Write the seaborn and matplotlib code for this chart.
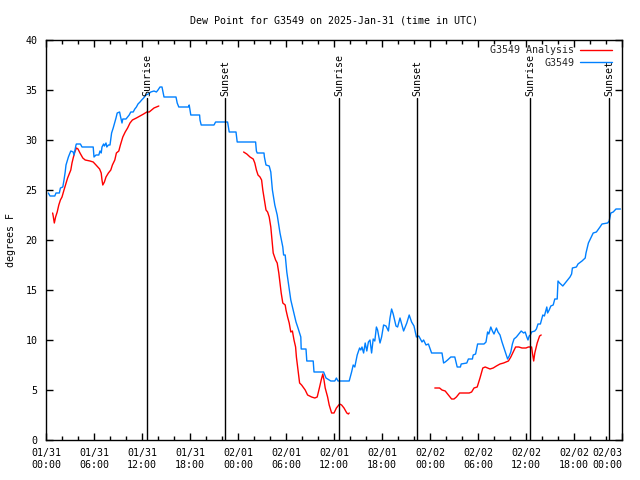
import pandas as pd
import numpy as np
import matplotlib.pyplot as plt
import seaborn as sns
from matplotlib.lines import Line2D
from matplotlib.ticker import MultipleLocator

# Datos (horas desde 2025-01-31 00:00 UTC, punto de rocío en °F)
obs_horas = [0.29, 0.5, 1.1, 1.25, 1.67, 1.8, 2.1, 2.25, 2.4, 2.5, 2.8, 3.0, 3.1, 3.4, 3.5,
             3.75, 3.8, 4.3, 4.5, 5.9, 6.0, 6.25, 6.6, 6.75, 6.9, 7.0, 7.2, 7.3, 7.5, 7.6,
             7.8, 8.0, 8.2, 8.4, 8.75, 8.9, 9.2, 9.3, 9.5, 9.6, 10.0, 10.4, 10.6, 10.9, 11.1,
             11.3, 11.5, 11.75, 11.96, 12.2, 12.5, 12.8, 13.1, 13.5, 13.8, 14.0, 14.25, 14.5,
             14.75, 16.25, 16.4, 16.6, 17.8, 17.9, 18.0, 18.1, 19.2, 19.25, 19.4, 21.0, 21.2,
             22.7, 22.8, 22.9, 23.75, 23.9, 26.2, 26.3, 26.4, 27.25, 27.3, 27.5, 27.9, 28.1,
             28.3, 28.6, 28.9, 29.25, 29.6, 29.7, 29.9, 30.1, 30.3, 30.6, 30.9, 31.25, 31.5,
             31.85, 31.9, 32.5, 32.6, 33.4, 33.5, 34.7, 35.0, 35.6, 36.1, 36.3, 36.5, 37.9,
             38.2, 38.4, 38.6, 38.9, 39.2, 39.35, 39.5, 39.7, 39.9, 40.1, 40.3, 40.5, 40.7,
             40.9, 41.1, 41.3, 41.45, 41.75, 41.95, 42.2, 42.5, 42.8, 43.0, 43.2, 43.4, 43.75,
             43.95, 44.25, 44.7, 45.1, 45.4, 45.7, 46.0, 46.3, 46.6, 47.0, 47.2, 47.5, 47.8,
             48.2, 49.5, 49.7, 49.9, 50.2, 50.6, 51.1, 51.4, 51.8, 51.9, 52.6, 52.8, 53.3,
             53.4, 53.7, 53.95, 54.75, 55.0, 55.2, 55.35, 55.6, 55.8, 56.0, 56.3, 56.5, 56.75,
             57.0, 57.25, 57.5, 57.7, 57.9, 58.1, 58.3, 58.5, 58.8, 59.2, 59.4, 59.7, 59.9,
             60.1, 60.25, 60.4, 60.55, 60.7, 61.1, 61.3, 61.5, 61.8, 62.1, 62.3, 62.6, 62.7,
             62.9, 63.1, 63.4, 63.6, 63.9, 64.0, 64.2, 64.6, 64.9, 65.1, 65.5, 65.7, 65.8,
             66.3, 66.5, 67.0, 67.4, 67.5, 67.8, 68.1, 68.4, 68.8, 69.25, 69.5, 70.2, 70.4,
             70.6, 70.9, 71.25, 71.8]
obs_valores = [24.7, 24.4, 24.4, 24.7, 24.7, 25.2, 25.3, 26.0, 26.8, 27.5, 28.3, 28.7, 28.9,
               28.8, 28.5, 29.5, 29.6, 29.6, 29.3, 29.3, 28.3, 28.5, 28.5, 28.9, 28.7, 29.3,
               29.6, 29.4, 29.7, 29.3, 29.5, 29.5, 30.7, 31.2, 32.2, 32.7, 32.8, 32.4, 31.7,
               32.1, 32.1, 32.5, 32.8, 32.8, 33.1, 33.3, 33.6, 33.8, 34.0, 34.2, 34.5, 34.6,
               34.8, 34.9, 34.8, 35.0, 35.3, 35.3, 34.3, 34.3, 33.7, 33.3, 33.3, 33.5, 33.0,
               32.5, 32.5, 32.0, 31.5, 31.5, 31.8, 31.8, 31.3, 30.8, 30.8, 29.8, 29.8, 28.9,
               28.7, 28.7, 28.3, 27.5, 27.4, 26.8, 25.0, 23.5, 22.5, 20.7, 19.3, 18.5, 18.5,
               16.8, 15.7, 14.0, 13.0, 11.8, 11.2, 10.3, 9.1, 9.1, 7.9, 7.9, 6.8, 6.8, 6.2,
               5.9, 5.9, 6.2, 5.9, 5.9, 6.8, 7.5, 7.3, 8.5, 9.2, 9.0, 9.3, 8.7, 9.7, 8.9, 9.8,
               10.0, 8.7, 10.1, 9.9, 11.3, 11.0, 9.7, 10.3, 11.5, 11.4, 10.9, 12.2, 13.1, 12.6,
               11.4, 11.3, 12.2, 10.9, 11.7, 12.5, 11.8, 11.4, 10.3, 10.4, 9.8, 10.0, 9.5, 9.6,
               8.7, 8.7, 7.7, 7.8, 8.0, 8.3, 8.3, 7.3, 7.3, 7.6, 7.7, 8.1, 8.1, 8.5, 8.6, 9.6,
               9.6, 9.8, 10.8, 10.6, 11.3, 10.9, 10.6, 11.2, 10.8, 10.5, 9.8, 9.2, 8.6, 8.1,
               8.4, 8.8, 9.6, 10.1, 10.3, 10.7, 10.9, 10.7, 10.8, 10.3, 10.0, 10.4, 10.5, 10.8,
               10.9, 11.1, 11.6, 11.6, 12.5, 12.4, 13.3, 12.7, 13.0, 13.4, 13.5, 14.1, 14.1,
               15.9, 15.7, 15.4, 15.7, 15.9, 16.3, 16.6, 17.2, 17.3, 17.6, 17.9, 18.2, 18.7,
               19.7, 20.2, 20.7, 20.8, 21.3, 21.6, 21.7, 21.9, 22.7, 22.8, 23.1, 23.1]

# Análisis: tres tramos separados por huecos
ana1_horas = [0.83, 0.9, 1.04, 1.2, 1.4, 1.6, 1.8, 2.0, 2.25, 2.4, 2.7, 2.9, 3.1, 3.25, 3.4,
              3.6, 3.8, 4.0, 4.25, 4.6, 4.9, 5.5, 5.9, 6.25, 6.7, 6.9, 7.0, 7.1, 7.3, 7.5,
              7.8, 8.1, 8.3, 8.6, 8.8, 9.1, 9.3, 9.6, 9.9, 10.2, 10.5, 10.8, 11.3, 11.75,
              12.2, 12.6, 12.9, 13.2, 13.5, 13.8, 14.1]
ana1_valores = [22.7, 22.4, 21.7, 22.3, 22.8, 23.5, 24.0, 24.3, 25.0, 25.4, 26.2, 26.6, 27.0,
                27.7, 28.2, 28.8, 29.2, 29.1, 28.7, 28.2, 28.0, 27.9, 27.8, 27.5, 27.1, 26.7,
                26.0, 25.5, 25.8, 26.3, 26.7, 27.0, 27.5, 28.0, 28.7, 28.9, 29.5, 30.3, 30.8,
                31.2, 31.7, 32.0, 32.2, 32.4, 32.6, 32.8, 32.8, 33.0, 33.2, 33.3, 33.4]
ana2_horas = [24.7, 25.1, 25.5, 25.9, 26.1, 26.3, 26.5, 26.75, 26.95, 27.1, 27.3, 27.5, 27.7,
              27.9, 28.1, 28.25, 28.4, 28.7, 28.9, 29.1, 29.25, 29.4, 29.6, 29.9, 30.0, 30.2,
              30.4, 30.6, 30.8, 31.0, 31.2, 31.3, 31.5, 31.7, 31.95, 32.4, 32.7, 33.2, 33.6,
              33.9, 34.2, 34.4, 34.6, 34.75, 34.9, 35.2, 35.4, 35.7, 36.0, 36.3, 36.7, 36.95,
              37.25, 37.6, 37.8, 37.9]
ana2_valores = [28.8, 28.6, 28.3, 28.1, 27.7, 27.0, 26.5, 26.3, 26.0, 25.0, 24.0, 23.0, 22.8,
                22.3, 21.3, 20.0, 18.7, 18.0, 17.7, 16.7, 15.7, 14.7, 13.7, 13.5, 13.0, 12.3,
                11.7, 10.8, 10.9, 10.0, 9.3, 8.3, 7.0, 5.7, 5.5, 5.0, 4.5, 4.3, 4.2, 4.3, 5.3,
                6.0, 6.6, 6.0, 5.2, 4.3, 3.5, 2.7, 2.7, 3.2, 3.6, 3.5, 3.2, 2.7, 2.6, 2.7]
ana3_horas = [48.6, 49.2, 49.5, 49.9, 50.3, 50.7, 51.0, 51.3, 51.7, 52.2, 52.9, 53.2, 53.5,
              53.9, 54.25, 54.6, 54.9, 55.2, 55.5, 55.9, 56.3, 56.75, 57.2, 57.5, 57.8, 58.1,
              58.4, 58.7, 59.1, 59.5, 60.0, 60.3, 60.7, 60.8, 60.96, 61.1, 61.25, 61.4, 61.7,
              61.9]
ana3_valores = [5.2, 5.2, 5.0, 4.9, 4.5, 4.1, 4.1, 4.3, 4.7, 4.7, 4.7, 4.8, 5.2, 5.3, 6.2,
                7.2, 7.3, 7.2, 7.1, 7.2, 7.4, 7.6, 7.7, 7.8, 7.9, 8.3, 8.8, 9.3, 9.3, 9.2, 9.2,
                9.3, 9.3, 8.7, 7.9, 8.7, 9.2, 9.7, 10.4, 10.5]

# Salida y puesta del sol (horas)
sol_horas = [12.67, 22.4, 36.65, 46.42, 60.55, 70.43]
sol_textos = ['Sunrise', 'Sunset', 'Sunrise', 'Sunset', 'Sunrise', 'Sunset']

etiquetas_x = ['01/31\n00:00', '01/31\n06:00', '01/31\n12:00', '01/31\n18:00',
               '02/01\n00:00', '02/01\n06:00', '02/01\n12:00', '02/01\n18:00',
               '02/02\n00:00', '02/02\n06:00', '02/02\n12:00', '02/02\n18:00',
               '02/03\n00:00']

df_obs = pd.DataFrame({'hora': obs_horas, 'valor': obs_valores})
df_ana = pd.concat([
    pd.DataFrame({'hora': ana1_horas, 'valor': ana1_valores, 'tramo': 1}),
    pd.DataFrame({'hora': ana2_horas, 'valor': ana2_valores, 'tramo': 2}),
    pd.DataFrame({'hora': ana3_horas, 'valor': ana3_valores, 'tramo': 3}),
])

sns.set_theme(style="ticks")
plt.rcParams['font.family'] = ['DejaVu Sans Mono']
fs = 7.2

fig = plt.figure(figsize=(6.4, 4.8), dpi=100)
ax = fig.add_axes([46 / 640, 40 / 480, 576 / 640, 400 / 480])

rojo = '#ff0000'
azul = '#0080ff'

sns.lineplot(data=df_ana, x='hora', y='valor', units='tramo', estimator=None,
             color=rojo, linewidth=1.0, ax=ax)
sns.lineplot(data=df_obs, x='hora', y='valor', color=azul, linewidth=1.0, ax=ax)

for h, txt in zip(sol_horas, sol_textos):
    ax.plot([h, h], [0, 34.2], color='black', linewidth=1.0)
    ax.text(h, 34.4, txt, rotation=90, ha='center', va='bottom', color='black', fontsize=fs)

ax.set_xlim(0, 72)
ax.set_ylim(0, 40)
ax.set_xticks(np.arange(0, 73, 6))
ax.set_xticklabels(etiquetas_x)
ax.get_xticklabels()[-1].set_horizontalalignment('right')
ax.xaxis.set_minor_locator(MultipleLocator(2))
ax.set_yticks(np.arange(0, 41, 5))
ax.tick_params(which='both', direction='in', top=True, right=True, color='black',
               width=1.0, labelsize=fs, labelcolor='black')
ax.tick_params(which='major', length=5, pad=6)
ax.tick_params(which='minor', length=3)
for s in ax.spines.values():
    s.set_color('black')
    s.set_linewidth(1.0)

ax.set_xlabel('')
ax.set_ylabel('degrees F', color='black', fontsize=fs)
ax.yaxis.set_label_coords(-0.052, 0.5)
ax.set_title('Dew Point for G3549 on 2025-Jan-31 (time in UTC)', color='black',
             fontsize=fs, pad=12)

handles = [Line2D([], [], color=rojo, linewidth=1.0),
           Line2D([], [], color=azul, linewidth=1.0)]
ax.legend(handles, ['G3549 Analysis', 'G3549'], loc='upper right', frameon=False,
          markerfirst=False, handlelength=3.2, handletextpad=0.6, borderaxespad=0.3,
          labelspacing=0.25, fontsize=fs, bbox_to_anchor=(0.995, 1.005))

fig.savefig('out.png', dpi=100)
